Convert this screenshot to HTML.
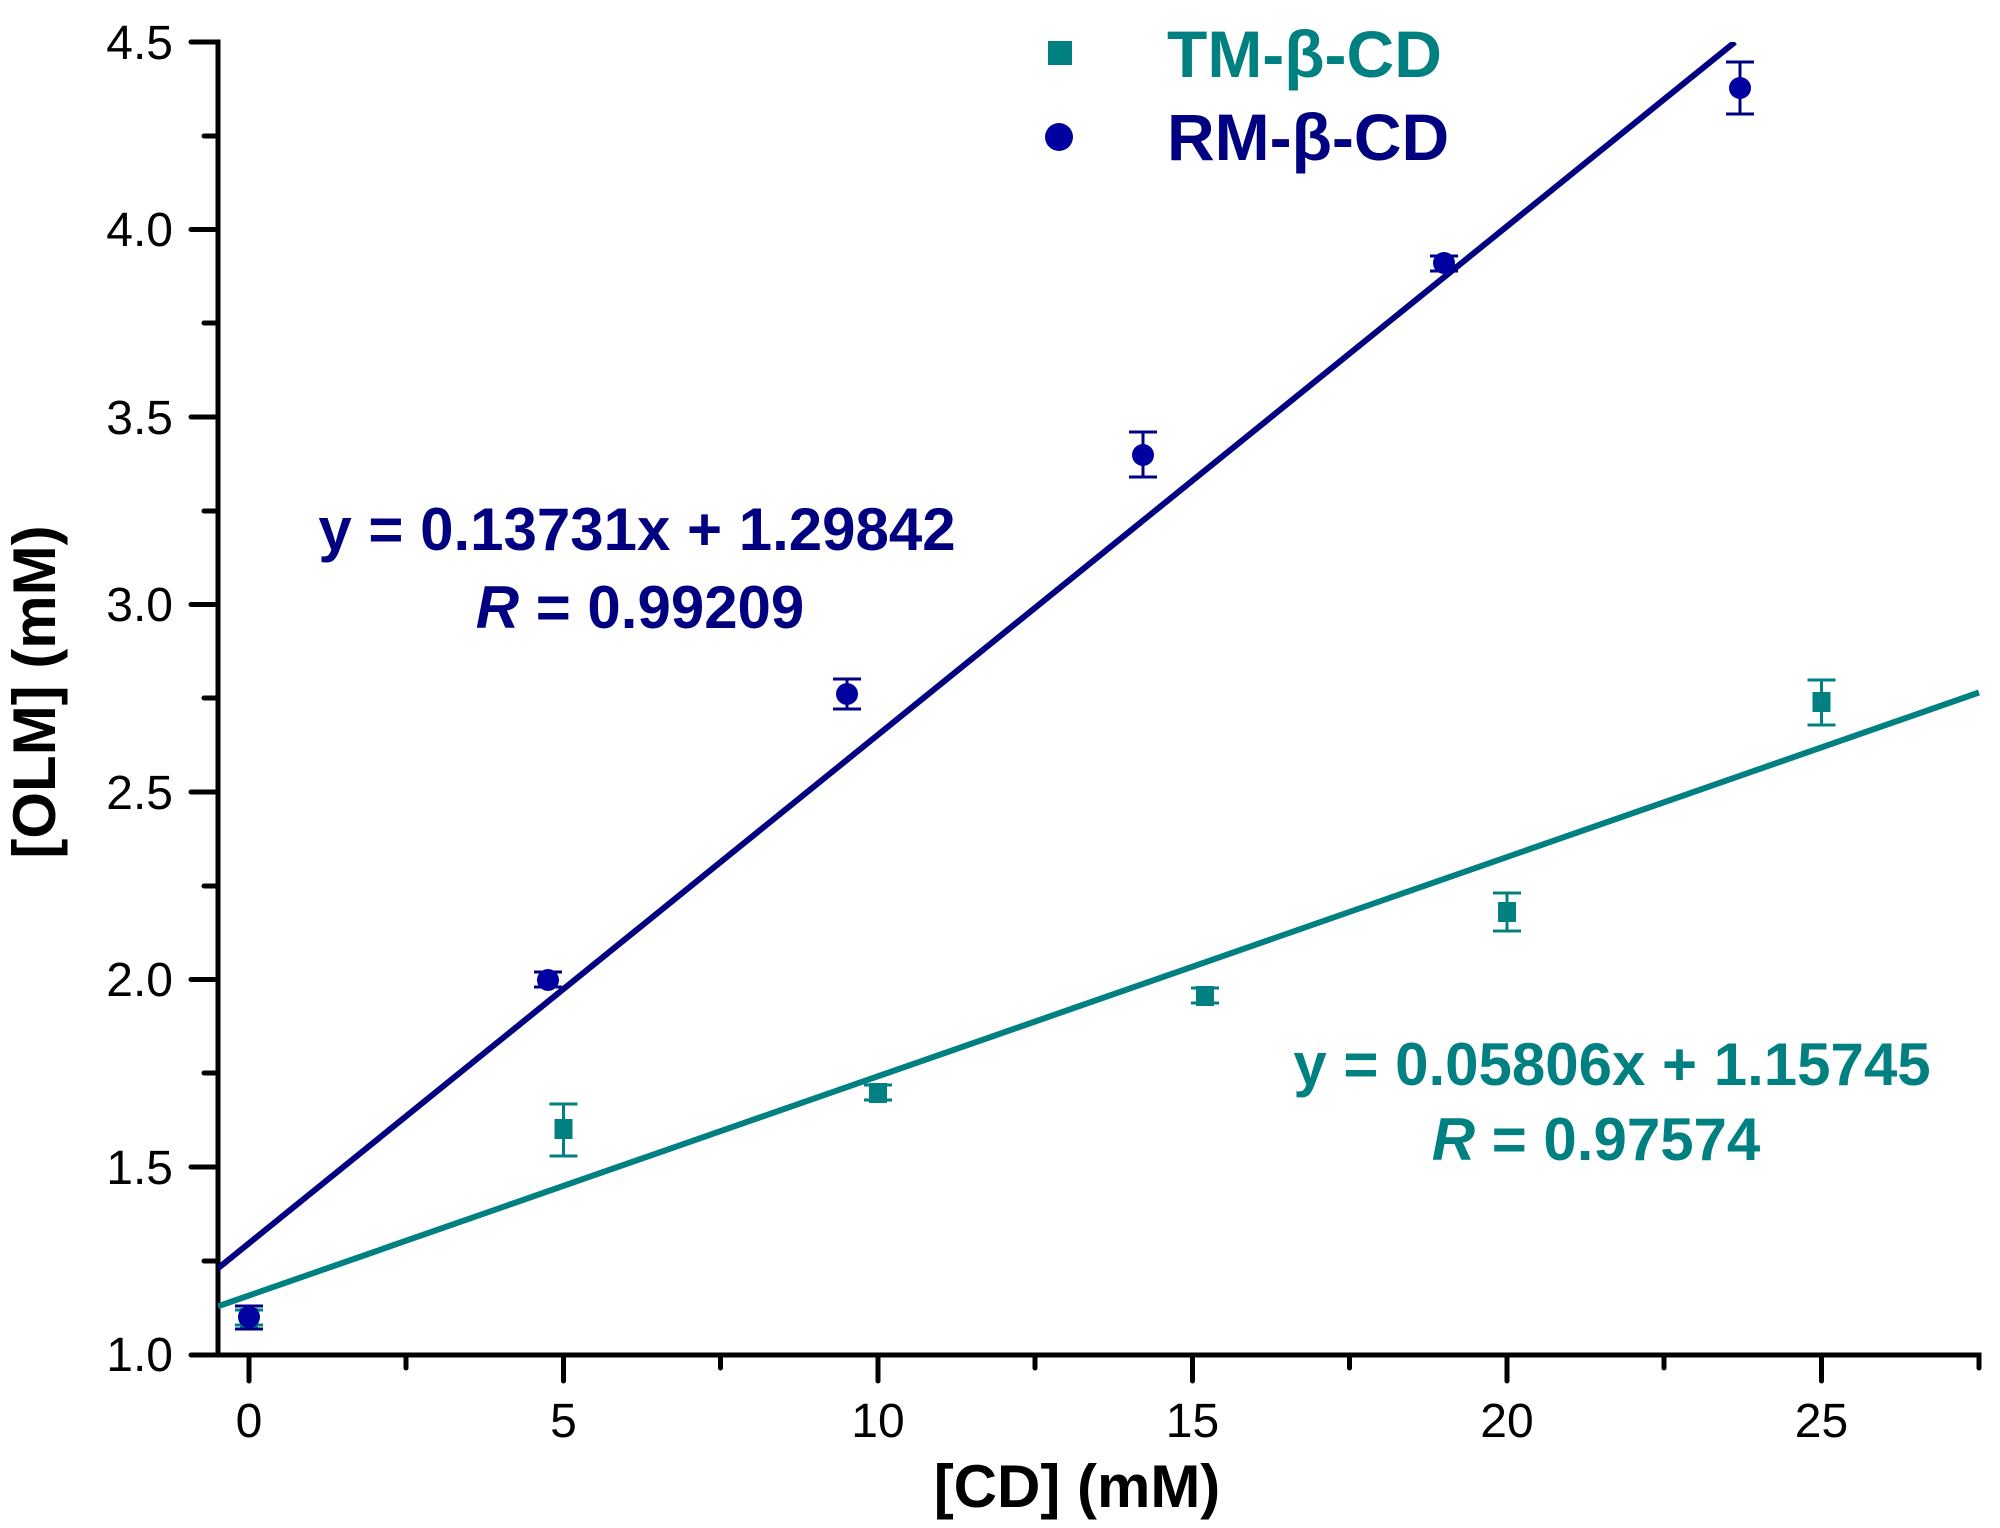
<!DOCTYPE html>
<html><head><meta charset="utf-8"><style>
html,body{margin:0;padding:0;background:#fff;}
svg{display:block;}
text{font-family:"Liberation Sans",Arial,sans-serif;}
</style></head><body>
<svg width="2000" height="1528" viewBox="0 0 2000 1528" xmlns="http://www.w3.org/2000/svg">
<defs><clipPath id="c"><rect x="218" y="42" width="1762" height="1313"/></clipPath></defs>
<g stroke="#000" stroke-width="5" stroke-linecap="round" fill="none">
<path d="M191 42 H218 V1355 H1979 V1368"/>
<path d="M191 1355 H218"/>
<path d="M191 229.5H218 M191 417H218 M191 604.5H218 M191 792H218 M191 979.5H218 M191 1167H218"/>
<path d="M204 136H218 M204 323H218 M204 511H218 M204 698H218 M204 886H218 M204 1073H218 M204 1261H218"/>
<path d="M249 1355V1381 M563.5 1355V1381 M878 1355V1381 M1192.5 1355V1381 M1507 1355V1381 M1821.5 1355V1381"/>
<path d="M406 1355V1368 M720.5 1355V1368 M1035 1355V1368 M1349.5 1355V1368 M1664 1355V1368"/>
</g>
<g font-size="48" text-anchor="end" fill="#000">
<text x="173" y="59">4.5</text><text x="173" y="246">4.0</text><text x="173" y="434">3.5</text>
<text x="173" y="621">3.0</text><text x="173" y="809">2.5</text><text x="173" y="996">2.0</text>
<text x="173" y="1184">1.5</text><text x="173" y="1371">1.0</text>
</g>
<g font-size="48" text-anchor="middle" fill="#000">
<text x="249" y="1437">0</text><text x="563.5" y="1437">5</text><text x="878" y="1437">10</text>
<text x="1192.5" y="1437">15</text><text x="1507" y="1437">20</text><text x="1821.5" y="1437">25</text>
</g>
<text x="1077" y="1507" font-size="60" font-weight="bold" text-anchor="middle">[CD] (mM)</text>
<text transform="translate(55,692) rotate(-90)" font-size="60" font-weight="bold" text-anchor="middle">[OLM] (mM)</text>
<g clip-path="url(#c)" stroke-width="6">
<line x1="218" y1="1268.3" x2="1735" y2="42" stroke="#000080"/>
<line x1="218" y1="1306.3" x2="1979" y2="692.5" stroke="#008080"/>
</g>
<g stroke="#008080" stroke-width="3" fill="#008080">
<path d="M249 1310V1325 M235 1310H263 M235 1325H263"/>
<path d="M563.5 1104V1156 M549.5 1104H577.5 M549.5 1156H577.5"/>
<path d="M878 1085V1100 M864 1085H892 M864 1100H892"/>
<path d="M1205 988V1003 M1191 988H1219 M1191 1003H1219"/>
<path d="M1507 893V931 M1493 893H1521 M1493 931H1521"/>
<path d="M1821.5 680V725 M1807.5 680H1835.5 M1807.5 725H1835.5"/>
</g>
<g fill="#008080">
<rect x="240" y="1308" width="18" height="20"/>
<rect x="554.5" y="1119" width="18" height="20"/>
<rect x="869" y="1083" width="18" height="20"/>
<rect x="1196" y="986" width="18" height="20"/>
<rect x="1498" y="902" width="18" height="20"/>
<rect x="1812.5" y="692" width="18" height="20"/>
</g>
<g stroke="#000080" stroke-width="3" fill="none">
<path d="M249 1306V1329 M235 1306H263 M235 1329H263"/>
<path d="M548 972V987 M534 972H562 M534 987H562"/>
<path d="M847 679V709 M833 679H861 M833 709H861"/>
<path d="M1143 432V477 M1129 432H1157 M1129 477H1157"/>
<path d="M1444 256V271 M1430 256H1458 M1430 271H1458"/>
<path d="M1740 62V114 M1726 62H1754 M1726 114H1754"/>
</g>
<g fill="#0000A0">
<circle cx="249" cy="1317" r="11"/>
<circle cx="548" cy="980" r="11"/>
<circle cx="847" cy="694" r="11"/>
<circle cx="1143" cy="455" r="11"/>
<circle cx="1444" cy="263" r="11"/>
<circle cx="1740" cy="88" r="11"/>
</g>
<rect x="1048" y="41" width="24" height="24" fill="#008080"/>
<text x="1167" y="77" font-size="66" font-weight="bold" fill="#008080">TM-β-CD</text>
<circle cx="1059" cy="137" r="14" fill="#0000A0"/>
<text x="1167" y="160" font-size="66" font-weight="bold" fill="#000080">RM-β-CD</text>
<g font-size="60" font-weight="bold" text-anchor="middle">
<text x="637" y="550" fill="#000080">y = 0.13731x + 1.29842</text>
<text x="640" y="628" fill="#000080"><tspan font-style="italic">R</tspan> = 0.99209</text>
<text x="1612" y="1085" fill="#008080">y = 0.05806x + 1.15745</text>
<text x="1596" y="1160" fill="#008080"><tspan font-style="italic">R</tspan> = 0.97574</text>
</g>
</svg>
</body></html>
